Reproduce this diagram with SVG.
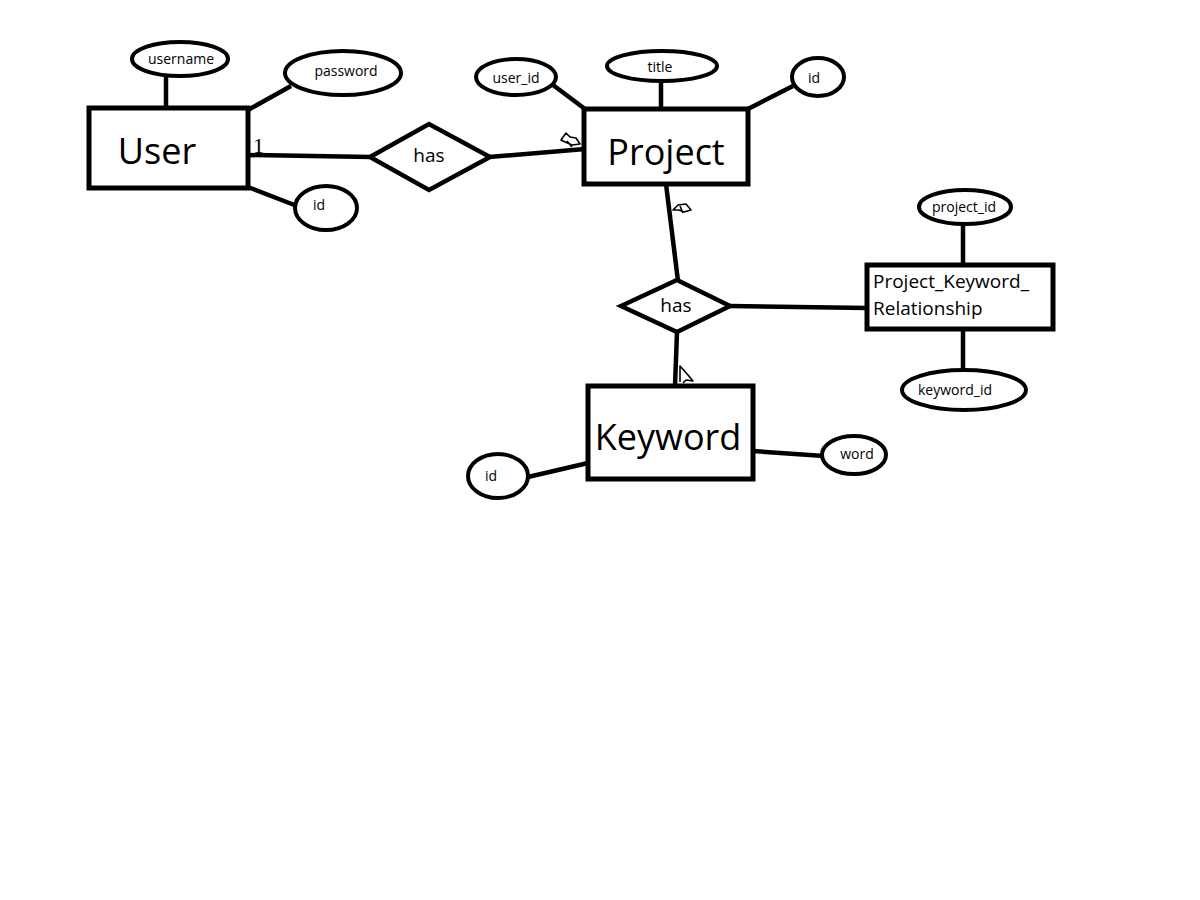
<svg xmlns="http://www.w3.org/2000/svg" width="1200" height="900" viewBox="0 0 1200 900">
<style>
.box{fill:#fff;stroke:#000;stroke-width:5}
.att{fill:#fff;stroke:#000;stroke-width:4}
.rel{fill:#fff;stroke:#000;stroke-width:4.5;stroke-linejoin:miter}
.ln{stroke:#000;stroke-width:4.5;fill:none}
.mk{stroke:#000;stroke-width:1.6;fill:none;stroke-linejoin:round}
.big{font-family:"Open Sans","Noto Sans","DejaVu Sans",sans-serif;font-size:36px;fill:#000;text-anchor:middle;dominant-baseline:central}
.sm{font-family:"Open Sans","Noto Sans","DejaVu Sans",sans-serif;font-size:14px;fill:#000;text-anchor:middle;dominant-baseline:central}
.mid{font-family:"Open Sans","Noto Sans","DejaVu Sans",sans-serif;font-size:19px;fill:#000}
.rl{font-family:"Open Sans","Noto Sans","DejaVu Sans",sans-serif;font-size:19px;fill:#000;text-anchor:middle;dominant-baseline:central}
</style>
<rect width="1200" height="900" fill="#fff"/>
<g id="connectors">
<line class="ln" x1="166" y1="77" x2="166" y2="108"/>
<line class="ln" x1="248" y1="110" x2="291" y2="86"/>
<line class="ln" x1="248" y1="187" x2="297" y2="206"/>
<line class="ln" x1="248" y1="155" x2="371" y2="157"/>
<line class="ln" x1="489" y1="157" x2="585" y2="149"/>
<line class="ln" x1="553" y1="85" x2="585" y2="109"/>
<line class="ln" x1="661" y1="82" x2="661" y2="109"/>
<line class="ln" x1="793" y1="86" x2="748" y2="109"/>
<line class="ln" x1="666" y1="184" x2="678" y2="281"/>
<line class="ln" x1="677" y1="332" x2="675" y2="386"/>
<line class="ln" x1="729" y1="306" x2="867" y2="308"/>
<line class="ln" x1="963" y1="225" x2="963" y2="265"/>
<line class="ln" x1="963" y1="329" x2="963" y2="370"/>
<line class="ln" x1="528" y1="477" x2="588" y2="463"/>
<line class="ln" x1="753" y1="451" x2="824" y2="456"/>
<text x="253" y="153" font-family="Liberation Serif,serif" font-size="22" fill="#000">1</text>
<path class="mk" d="M561 140 L566 133 L570 137 L576 138 L580 144 L572 145 L563 141 Z M567 141 L572 147"/>
<path class="mk" d="M673 210 L678 205 L686 204 L691 210 L684 212 L679 210 Z M680 206 L683 213"/>
<path class="mk" d="M680 382 L680 366 L688 375 L693 381 L686 380 L683 383"/>
</g>
<g id="user">
<rect class="box" x="89" y="108" width="159" height="80"/>
<text class="big" x="157" y="150">User</text>
</g>
<g id="attr-username">
<ellipse class="att" cx="180" cy="59" rx="48" ry="17"/>
<text class="sm" x="181" y="58">username</text>
</g>
<g id="attr-password">
<ellipse class="att" cx="343" cy="73" rx="58" ry="22"/>
<text class="sm" x="346" y="70">password</text>
</g>
<g id="attr-user-id">
<ellipse class="att" cx="326" cy="208" rx="31" ry="22"/>
<text class="sm" x="319" y="204">id</text>
</g>
<g id="has1">
<polygon class="rel" points="370,157 429,124 490,157 429,190"/>
<text class="rl" x="429" y="155">has</text>
</g>
<g id="project">
<rect class="box" x="584" y="109" width="164" height="75"/>
<text class="big" x="666" y="151">Project</text>
</g>
<g id="attr-user_id">
<ellipse class="att" cx="516" cy="77" rx="40" ry="18"/>
<text class="sm" x="516" y="77">user_id</text>
</g>
<g id="attr-title">
<ellipse class="att" cx="662" cy="66" rx="55" ry="15"/>
<text class="sm" x="660" y="66">title</text>
</g>
<g id="attr-project-id">
<ellipse class="att" cx="818" cy="77" rx="26" ry="19"/>
<text class="sm" x="814" y="77">id</text>
</g>
<g id="has2">
<polygon class="rel" points="621,306 677,280 730,306 677,332"/>
<text class="rl" x="676" y="305">has</text>
</g>
<g id="project-keyword-relationship">
<rect class="box" x="867" y="265" width="186" height="64"/>
<text class="mid" x="873" y="288">Project_Keyword_</text>
<text class="mid" x="873" y="315">Relationship</text>
</g>
<g id="attr-project_id">
<ellipse class="att" cx="965" cy="207" rx="46" ry="17"/>
<text class="sm" x="964" y="206">project_id</text>
</g>
<g id="attr-keyword_id">
<ellipse class="att" cx="964" cy="390" rx="62" ry="20"/>
<text class="sm" x="955" y="389">keyword_id</text>
</g>
<g id="keyword">
<rect class="box" x="588" y="386" width="165" height="93"/>
<text class="big" x="668" y="436">Keyword</text>
</g>
<g id="attr-keyword-id">
<ellipse class="att" cx="498" cy="476" rx="30" ry="22"/>
<text class="sm" x="491" y="475">id</text>
</g>
<g id="attr-word">
<ellipse class="att" cx="854" cy="455" rx="32" ry="19"/>
<text class="sm" x="857" y="453">word</text>
</g>
</svg>
